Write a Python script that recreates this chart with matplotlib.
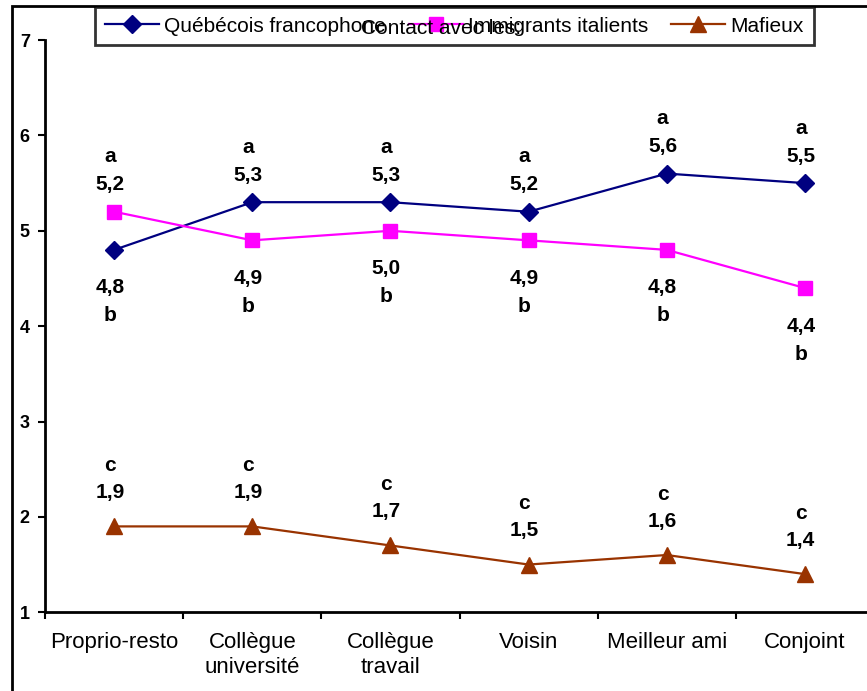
import matplotlib.pyplot as plt
from matplotlib.patches import Rectangle

plt.rcParams['font.family'] = ['Liberation Sans', 'DejaVu Sans']

categories = ['Proprio-resto', 'Collègue\nuniversité', 'Collègue\ntravail',
              'Voisin', 'Meilleur ami', 'Conjoint']
quebecois = [4.8, 5.3, 5.3, 5.2, 5.6, 5.5]
italiens = [5.2, 4.9, 5.0, 4.9, 4.8, 4.4]
mafieux = [1.9, 1.9, 1.7, 1.5, 1.6, 1.4]
quebecois_lettres = ['b', 'a', 'a', 'a', 'a', 'a']
italiens_lettres = ['a', 'b', 'b', 'b', 'b', 'b']
mafieux_lettres = ['c', 'c', 'c', 'c', 'c', 'c']

fig = plt.figure(figsize=(8.67, 6.91), dpi=100)
ax = fig.add_axes([0.052, 0.114, 0.956, 0.828])

x = list(range(len(categories)))
ax.plot(x, quebecois, color='#000080', marker='D', markersize=9, lw=1.6,
        label='Québécois francophone')
ax.plot(x, italiens, color='#FF00FF', marker='s', markersize=10, lw=1.6,
        label='Immigrants italients')
ax.plot(x, mafieux, color='#993300', marker='^', markersize=11, lw=1.6,
        label='Mafieux')

def fmt(v):
    return ('%.1f' % v).replace('.', ',')

def etiquette(i, val, let, d_val, d_let):
    # decalages en pixels -> points
    for txt, d in [(fmt(val), d_val), (let, d_let)]:
        ax.annotate(txt, (i, val), xytext=(-3, d * 0.72), textcoords='offset points',
                    ha='center', va='center', fontsize=15, fontweight='bold')

for i in x:
    q, it = quebecois[i], italiens[i]
    for val, let, other in [(q, quebecois_lettres[i], it), (it, italiens_lettres[i], q)]:
        if val >= other:
            etiquette(i, val, let, 27, 55)
        else:
            etiquette(i, val, let, -38, -66)
    etiquette(i, mafieux[i], mafieux_lettres[i], 34, 61)

ax.set_xlim(-0.5, 5.5)
ax.set_ylim(1, 7)
ax.set_yticks(range(1, 8))
ax.set_yticklabels([str(v) for v in range(1, 8)], fontsize=13, fontweight='bold')
ax.set_xticks([i + 0.5 for i in range(-1, 5)])
ax.set_xticklabels([])
ax.set_xticks(x, minor=True)
ax.set_xticklabels(categories, minor=True, fontsize=16, linespacing=1.25)
ax.tick_params(axis='x', which='minor', length=0, pad=14)
ax.tick_params(axis='x', which='major', length=5, width=1.5, direction='out')
ax.tick_params(axis='y', length=5, width=1.5, direction='out', pad=6)
for s in ['top', 'right']:
    ax.spines[s].set_visible(False)
for s in ['left', 'bottom']:
    ax.spines[s].set_linewidth(2)

leg = fig.legend(loc='upper left', bbox_to_anchor=(95 / 867, 1 - 7 / 691), ncol=3,
                 fontsize=15, frameon=True, fancybox=False, edgecolor='black',
                 handlelength=2.6, handletextpad=0.25, columnspacing=1.1,
                 borderpad=0.46, borderaxespad=0)
leg.get_frame().set_linewidth(2)
fig.text(441 / 867, 1 - 29 / 691, 'Contact avec les:', ha='center', va='center',
         fontsize=15, zorder=10)

fig.patches.append(Rectangle((12 / 867, -0.01), 1.0, 1.01 - 6 / 691,
                             transform=fig.transFigure, fill=False,
                             edgecolor='black', lw=2))

fig.savefig('out.png', dpi=100)
